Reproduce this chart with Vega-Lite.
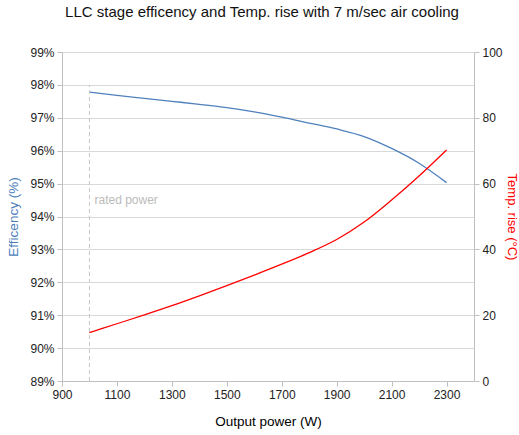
{
  "$schema": "https://vega.github.io/schema/vega-lite/v6.json",
  "width": 412,
  "height": 329,
  "autosize": "none",
  "padding": {"left": 62, "top": 52, "right": 45, "bottom": 54},
  "background": "white",
  "config": {
    "view": {"stroke": null},
    "font": "Liberation Sans",
    "axis": {
      "labelFont": "Liberation Sans",
      "titleFont": "Liberation Sans",
      "labelFontSize": 12,
      "titleFontSize": 13.5,
      "titleFontWeight": "normal",
      "labelColor": "#222",
      "domainColor": "#c0c0c0",
      "tickColor": "#c0c0c0",
      "gridColor": "#d9d9d9",
      "tickSize": 5,
      "labelOverlap": false
    }
  },
  "title": {
    "text": "LLC stage efficency and Temp. rise with 7 m/sec air cooling",
    "font": "Liberation Sans",
    "fontSize": 15,
    "fontWeight": "normal",
    "color": "#111",
    "offset": 26,
    "dx": -6
  },
  "data": {
    "values": [
      {"power": 1000, "eff": 97.78, "temp": 14.7},
      {"power": 1100, "eff": 97.68, "temp": 17.4},
      {"power": 1200, "eff": 97.59, "temp": 20.1},
      {"power": 1300, "eff": 97.5, "temp": 22.9},
      {"power": 1400, "eff": 97.41, "temp": 25.9},
      {"power": 1500, "eff": 97.31, "temp": 29.0},
      {"power": 1600, "eff": 97.18, "temp": 32.2},
      {"power": 1700, "eff": 97.02, "temp": 35.5},
      {"power": 1800, "eff": 96.84, "temp": 39.0},
      {"power": 1900, "eff": 96.66, "temp": 43.0},
      {"power": 2000, "eff": 96.43, "temp": 48.3},
      {"power": 2100, "eff": 96.07, "temp": 55.0},
      {"power": 2200, "eff": 95.62, "temp": 62.3},
      {"power": 2300, "eff": 95.03, "temp": 70.2}
    ]
  },
  "layer": [
    {
      "layer": [
        {
          "mark": {"type": "line", "color": "#4f81bd", "strokeWidth": 1.3, "interpolate": "monotone"},
          "encoding": {
            "x": {
              "field": "power", "type": "quantitative",
              "scale": {"domain": [900, 2400], "nice": false, "zero": false},
              "axis": {"values": [900, 1100, 1300, 1500, 1700, 1900, 2100, 2300], "format": "d", "grid": false, "title": "Output power (W)", "titlePadding": 14, "labelPadding": 3, "labelFlush": false}
            },
            "y": {
              "field": "eff", "type": "quantitative",
              "scale": {"domain": [89, 99], "nice": false, "zero": false},
              "axis": {"values": [89, 90, 91, 92, 93, 94, 95, 96, 97, 98, 99], "labelOverlap": false, "labelBound": false, "labelExpr": "datum.value + '%'", "title": "Efficency (%)", "titleColor": "#4a7ebb", "titlePadding": 9, "grid": true, "labelPadding": 3}
            }
          }
        },
        {
          "data": {"values": [{"power": 1000, "lo": 89, "hi": 98}]},
          "mark": {"type": "rule", "color": "#c8c8c8", "strokeDash": [4, 3], "strokeWidth": 1},
          "encoding": {
            "x": {"field": "power", "type": "quantitative"},
            "y": {
              "field": "lo", "type": "quantitative",
              "axis": {"values": [89, 90, 91, 92, 93, 94, 95, 96, 97, 98, 99], "labelOverlap": false, "labelBound": false, "labelExpr": "datum.value + '%'", "title": "Efficency (%)", "titleColor": "#4a7ebb", "titlePadding": 9, "grid": true, "labelPadding": 3}
            },
            "y2": {"field": "hi"}
          }
        },
        {
          "data": {"values": [{"power": 1000, "pos": 94.5, "label": "rated power"}]},
          "mark": {"type": "text", "align": "left", "baseline": "middle", "dx": 5, "color": "#bbbbbb", "fontSize": 12, "font": "Liberation Sans"},
          "encoding": {
            "x": {"field": "power", "type": "quantitative"},
            "y": {
              "field": "pos", "type": "quantitative",
              "axis": {"values": [89, 90, 91, 92, 93, 94, 95, 96, 97, 98, 99], "labelOverlap": false, "labelBound": false, "labelExpr": "datum.value + '%'", "title": "Efficency (%)", "titleColor": "#4a7ebb", "titlePadding": 9, "grid": true, "labelPadding": 3}
            },
            "text": {"field": "label"}
          }
        }
      ]
    },
    {
      "mark": {"type": "line", "color": "#ff0000", "strokeWidth": 1.3, "interpolate": "monotone"},
      "encoding": {
        "x": {"field": "power", "type": "quantitative"},
        "y": {
          "field": "temp", "type": "quantitative",
          "scale": {"domain": [0, 100], "nice": false},
          "axis": {"orient": "right", "values": [0, 20, 40, 60, 80, 100], "title": "Temp. rise (°C)", "titleFontSize": 13, "titleColor": "#ff0000", "grid": false, "titlePadding": 2, "labelPadding": 3}
        }
      }
    }
  ],
  "resolve": {"scale": {"y": "independent"}}
}
